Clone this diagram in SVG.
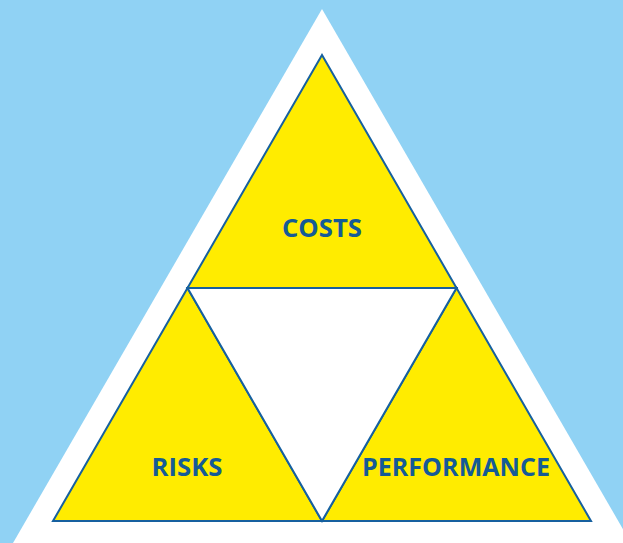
<svg xmlns="http://www.w3.org/2000/svg" width="623" height="543" viewBox="0 0 623 543">
  <style>
    .tri { fill: #ffec00; stroke: #16609f; stroke-width: 2; stroke-linejoin: miter; }
    .hole { fill: #ffffff; stroke: #16609f; stroke-width: 2; }
    .label { font-family: "Open Sans", "Liberation Sans", sans-serif; font-weight: bold; font-size: 25px; fill: #155b96; text-anchor: middle; }
  </style>
  <rect width="623" height="543" fill="#90d2f4"/>
  <!-- large white backdrop triangle -->
  <polygon points="322,9 13,543 631,543" fill="#ffffff"/>
  <g id="costs">
    <polygon class="tri" points="322,55 187.5,288 456.5,288"/>
    <text class="label" x="322" y="237" textLength="80" lengthAdjust="spacingAndGlyphs">COSTS</text>
  </g>
  <g id="risks">
    <polygon class="tri" points="187.5,288 53,521 322,521"/>
    <text class="label" x="187" y="476" textLength="71" lengthAdjust="spacingAndGlyphs">RISKS</text>
  </g>
  <g id="performance">
    <polygon class="tri" points="456.5,288 322,521 591,521"/>
    <text class="label" x="456" y="476" textLength="188" lengthAdjust="spacingAndGlyphs">PERFORMANCE</text>
  </g>
  <g id="center">
    <polygon class="hole" points="187.5,288 456.5,288 322,521"/>
  </g>
</svg>
